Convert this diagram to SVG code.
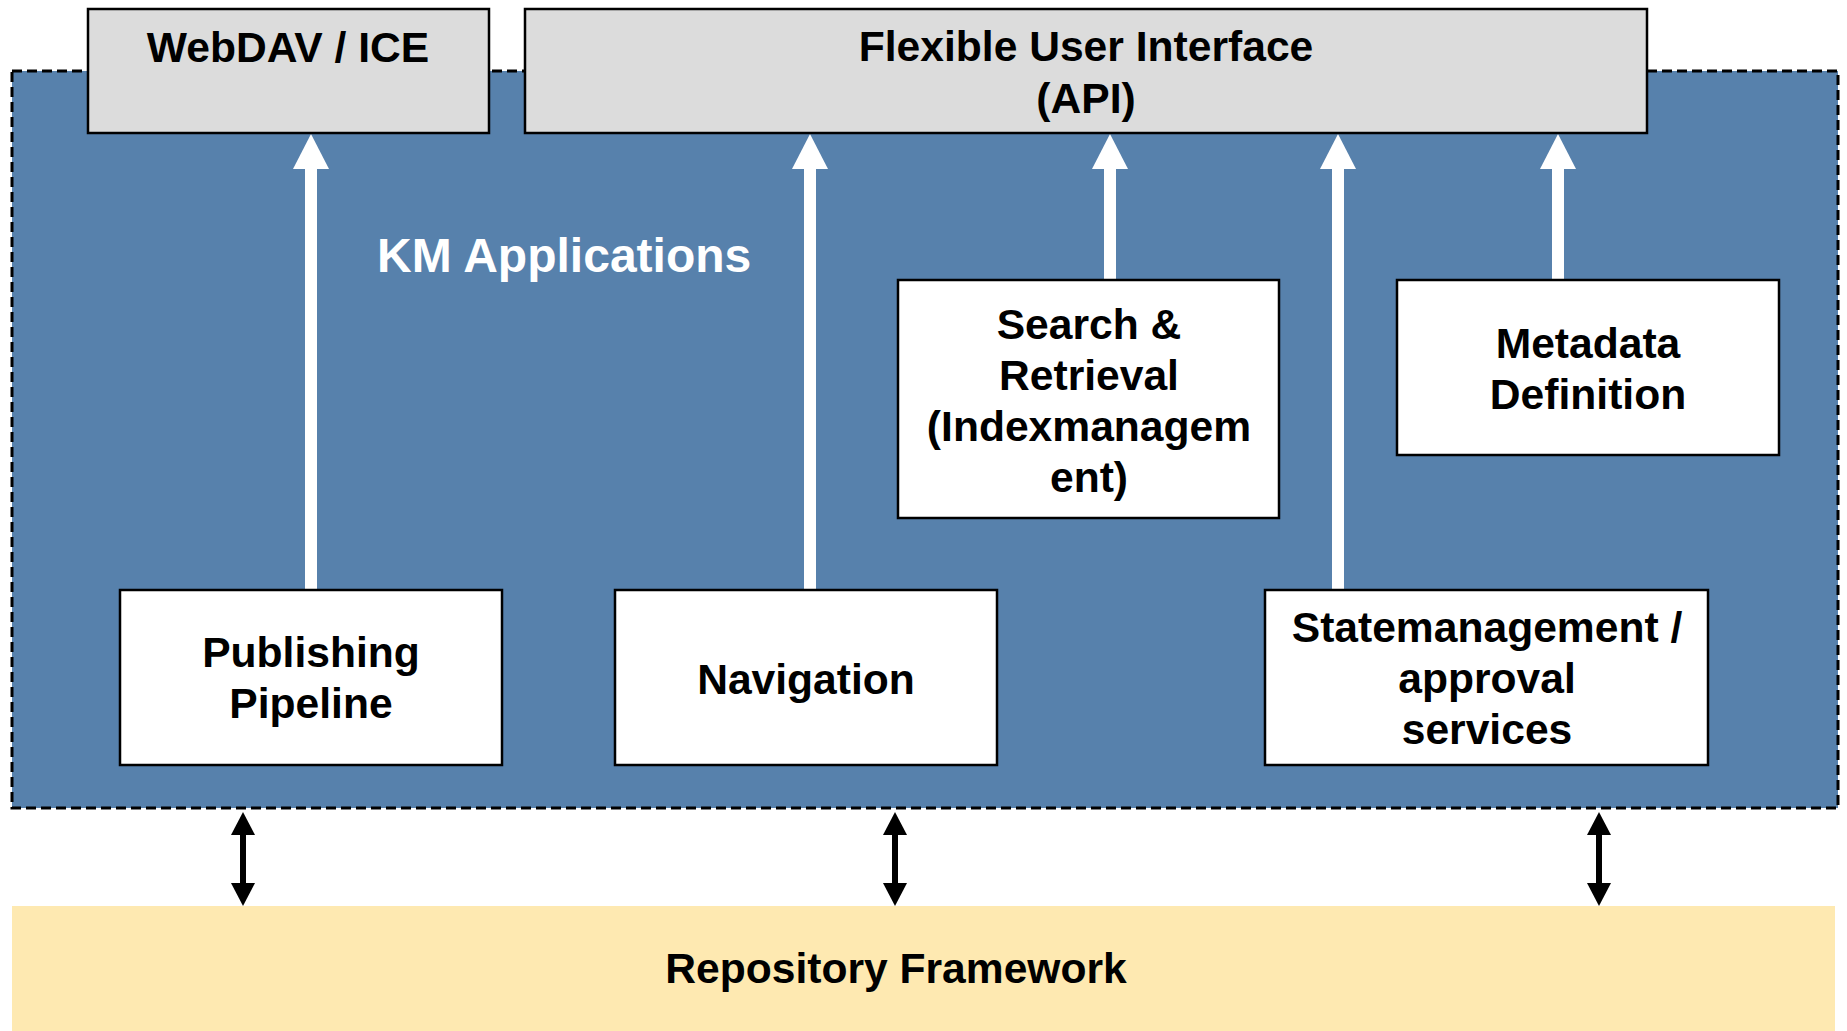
<svg xmlns="http://www.w3.org/2000/svg" width="1847" height="1031" viewBox="0 0 1847 1031">
  <style>
    text { font-family: "Liberation Sans", Arial, sans-serif; font-weight: bold; font-size: 42.6px; fill: #000; text-anchor: middle; }
    .box { fill: #fff; stroke: #000; stroke-width: 2.5; }
    .top { fill: #dcdcdc; stroke: #000; stroke-width: 2.5; }
    .flow { stroke: #fff; stroke-width: 12; fill: none; }
    .link { stroke: #000; stroke-width: 6; fill: none; }
  </style>
  <defs>
    <marker id="whiteHead" markerUnits="userSpaceOnUse" viewBox="0 0 35 36" markerWidth="35" markerHeight="36" refX="0" refY="18" orient="auto">
      <path d="M0,0 L35,18 L0,36 Z" fill="#fff"/>
    </marker>
    <marker id="blackHead" markerUnits="userSpaceOnUse" viewBox="0 0 23 24" markerWidth="23" markerHeight="24" refX="0" refY="12" orient="auto-start-reverse">
      <path d="M0,0 L23,12 L0,24 Z" fill="#000"/>
    </marker>
  </defs>

  <rect width="1847" height="1031" fill="#fff"/>

  <!-- KM Applications container -->
  <g id="km-applications">
    <rect x="12" y="71" width="1826" height="737" fill="#5781ac" stroke="#000" stroke-width="3" stroke-dasharray="10,5"/>
    <text x="377" y="272" style="fill:#fff;font-size:48px;text-anchor:start">KM Applications</text>
  </g>

  <!-- Repository Framework -->
  <g id="repository-framework">
    <rect x="12" y="906" width="1823" height="125" fill="#fee9b1"/>
    <text x="896" y="983">Repository Framework</text>
  </g>

  <!-- connectors -->
  <g id="connectors">
    <line class="flow" x1="311" y1="590" x2="311" y2="169" marker-end="url(#whiteHead)"/>
    <line class="flow" x1="810" y1="590" x2="810" y2="169" marker-end="url(#whiteHead)"/>
    <line class="flow" x1="1110" y1="280" x2="1110" y2="169" marker-end="url(#whiteHead)"/>
    <line class="flow" x1="1338" y1="590" x2="1338" y2="169" marker-end="url(#whiteHead)"/>
    <line class="flow" x1="1558" y1="280" x2="1558" y2="169" marker-end="url(#whiteHead)"/>

    <line class="link" x1="243" y1="835" x2="243" y2="883" marker-start="url(#blackHead)" marker-end="url(#blackHead)"/>
    <line class="link" x1="895" y1="835" x2="895" y2="883" marker-start="url(#blackHead)" marker-end="url(#blackHead)"/>
    <line class="link" x1="1599" y1="835" x2="1599" y2="883" marker-start="url(#blackHead)" marker-end="url(#blackHead)"/>
  </g>

  <!-- interface layer -->
  <g id="webdav-ice">
    <rect class="top" x="88" y="9" width="401" height="124"/>
    <text x="288" y="62">WebDAV / ICE</text>
  </g>
  <g id="flexible-ui">
    <rect class="top" x="525" y="9" width="1122" height="124"/>
    <text x="1086" y="61">Flexible User Interface</text>
    <text x="1086" y="113">(API)</text>
  </g>

  <!-- application modules -->
  <g id="search-retrieval">
    <rect class="box" x="898" y="280" width="381" height="238"/>
    <text x="1089" y="339">Search &amp;</text>
    <text x="1089" y="390">Retrieval</text>
    <text x="1089" y="441">(Indexmanagem</text>
    <text x="1089" y="492">ent)</text>
  </g>
  <g id="metadata-definition">
    <rect class="box" x="1397" y="280" width="382" height="175"/>
    <text x="1588" y="358">Metadata</text>
    <text x="1588" y="409">Definition</text>
  </g>
  <g id="publishing-pipeline">
    <rect class="box" x="120" y="590" width="382" height="175"/>
    <text x="311" y="667">Publishing</text>
    <text x="311" y="718">Pipeline</text>
  </g>
  <g id="navigation">
    <rect class="box" x="615" y="590" width="382" height="175"/>
    <text x="806" y="694">Navigation</text>
  </g>
  <g id="statemanagement">
    <rect class="box" x="1265" y="590" width="443" height="175"/>
    <text x="1487" y="642">Statemanagement /</text>
    <text x="1487" y="693">approval</text>
    <text x="1487" y="744">services</text>
  </g>
</svg>
